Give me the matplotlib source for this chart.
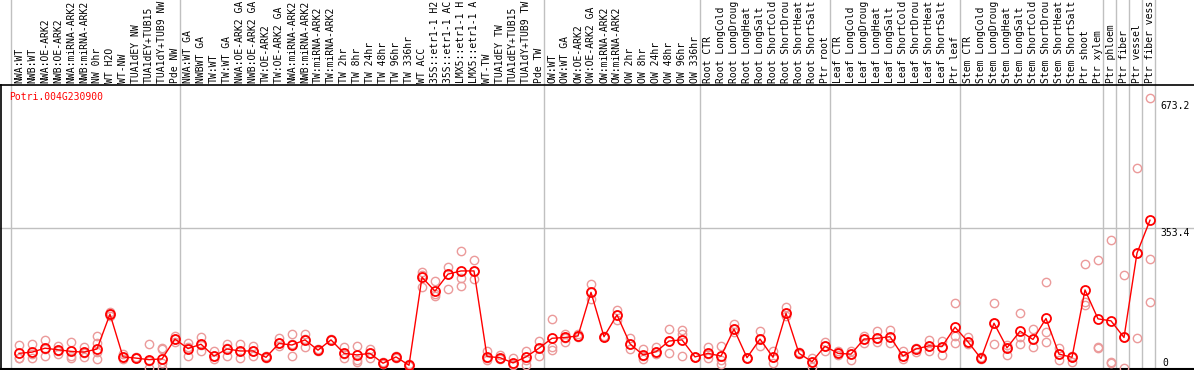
import numpy as np
import matplotlib
matplotlib.use("Agg")
import matplotlib.pyplot as plt

# gene shown in the panel
gene = "Potri.004G230900"

# sample names, one column each
samples = [
    "NWA:WT", "NWB:WT", "NWA:OE-ARK2", "NWB:OE-ARK2", "NWA:miRNA-ARK2",
    "NWB:miRNA-ARK2", "NW 0hr", "WT H2O", "WT-NW", "TUA1dEY NW",
    "TUA1dEY+TUB15", "TUA1dY+TUB9 NW", "Pde NW",
    "NWA:WT GA", "NWBWT GA", "TW:WT", "TW:WT GA", "NWA:OE-ARK2 GA",
    "NWB:OE-ARK2 GA", "TW:OE-ARK2", "TW:OE-ARK2 GA", "NWA:miRNA-ARK2",
    "NWB:miRNA-ARK2", "TW:miRNA-ARK2", "TW:miRNA-ARK2", "TW 2hr", "TW 8hr",
    "TW 24hr", "TW 48hr", "TW 96hr", "TW 336hr", "WT ACC", "35S::etr1-1 H2",
    "35S::etr1-1 AC", "LMX5::etr1-1 H", "LMX5::etr1-1 A", "WT-TW",
    "TUA1dEY TW", "TUA1dEY+TUB15", "TUA1dY+TUB9 TW", "Pde TW",
    "OW:WT", "OW:WT GA", "OW:OE-ARK2", "OW:OE-ARK2 GA", "OW:miRNA-ARK2",
    "OW:miRNA-ARK2", "OW 2hr", "OW 8hr", "OW 24hr", "OW 48hr", "OW 96hr",
    "OW 336hr",
    "Root CTR", "Root LongCold", "Root LongDroug", "Root LongHeat",
    "Root LongSalt", "Root ShortCold", "Root ShortDrou", "Root ShortHeat",
    "Root ShortSalt", "Ptr root",
    "Leaf CTR", "Leaf LongCold", "Leaf LongDroug", "Leaf LongHeat",
    "Leaf LongSalt", "Leaf ShortCold", "Leaf ShortDrou", "Leaf ShortHeat",
    "Leaf ShortSalt", "Ptr leaf",
    "Stem CTR", "Stem LongCold", "Stem LongDroug", "Stem LongHeat",
    "Stem LongSalt", "Stem ShortCold", "Stem ShortDrou", "Stem ShortHeat",
    "Stem ShortSalt", "Ptr shoot", "Ptr xylem", "Ptr phloem", "Ptr fiber",
    "Ptr vessel", "Ptr fiber vess",
]

# mean expression per sample
means = [
    37, 40, 50, 46, 42, 40, 48, 136, 28, 25, 21, 23, 73,
    49, 60, 30, 48, 43, 43, 27, 62, 58, 71, 45, 71, 37, 33, 37, 12, 28, 7,
    229, 194, 237, 245, 245, 29, 26, 13, 28, 50,
    75, 77, 81, 191, 79, 134, 61, 33, 41, 68, 71, 28,
    37, 30, 98, 26, 73, 27, 138, 37, 16, 55,
    37, 35, 73, 75, 79, 30, 48, 56, 54, 103,
    66, 24, 113, 51, 93, 72, 125, 35, 27, 197, 124, 119, 77, 290, 373,
]

# single replicates per sample
reps = [
    [58, 26, 24], [60, 26, 36], [71, 31, 48], [56, 35, 44], [66, 30, 26],
    [54, 27, 38], [81, 62, 22, 40], [141, 131, 136], [35, 22, 28],
    [25, 24, 27], [61, 1, 18], [50, 47, 13, 1], [81, 66, 73],
    [62, 30, 52], [77, 44, 58], [43, 22, 30], [60, 31, 50], [61, 24, 42],
    [55, 30, 44], [27, 24, 30], [75, 62, 55], [85, 30, 60], [85, 52, 74],
    [47, 45, 43], [71, 70, 72], [52, 26, 35], [55, 20, 16], [47, 24, 38],
    [14, 10, 12], [28, 30, 26], [7, 5, 9], [243, 205, 235], [220, 182, 188],
    [256, 199, 237], [295, 228, 207], [273, 224, 245], [44, 20, 24],
    [32, 26, 22], [26, 8, 10], [44, 8, 20], [68, 31, 50],
    [124, 54, 46], [85, 65, 75], [87, 79, 81], [212, 173, 191],
    [79, 78, 80], [146, 121, 134], [75, 48, 61], [47, 22, 30],
    [54, 36, 41], [98, 37, 68], [97, 85, 31], [28, 28, 28],
    [52, 24, 35], [55, 19, 11], [111, 90, 98], [26, 26, 26], [94, 55, 73],
    [44, 13, 27], [153, 131, 138], [37, 40, 35], [26, 3, 16], [66, 42, 55],
    [44, 37, 33], [44, 20, 35], [81, 63, 73], [94, 66, 75], [96, 63, 79],
    [44, 22, 30], [50, 40, 48], [71, 42, 56], [69, 33, 54], [165, 81, 62],
    [79, 66, 60], [24, 27, 22], [163, 60, 113], [57, 33, 51], [138, 79, 60],
    [98, 54, 72], [216, 90, 65], [50, 20, 35], [27, 16, 30],
    [262, 167, 159], [272, 54, 50], [322, 16, 12], [235, 0, 77],
    [504, 75, 290], [681, 274, 166],
]

# group borders (index of first sample after a border)
borders = [0, 13, 41, 53, 63, 73, 84, 85, 86, 87, 88]

# right hand scale labels
scale_vals = [673.2, 353.4, 0]

W, H = 1194, 370
STEP = 13.0          # px per sample
X0 = 19.0            # px of first sample
UNIT = 2.524         # value per px
BASE = 368.0         # px of value 0


def ypx(p):
    # pixel row (from top) -> data value
    return (BASE - p) * UNIT


def xpx(p):
    return (p - X0) / STEP


fig = plt.figure(figsize=(W / 100, H / 100), dpi=100)
ax = fig.add_axes([0, 0, 1, 1])
ax.set_xlim(xpx(0), xpx(W))
ax.set_ylim(ypx(H), ypx(0))
ax.axis("off")

mono = "DejaVu Sans Mono"
fs = 7

# frame
ax.plot([xpx(0), xpx(W)], [ypx(85), ypx(85)], color="black", lw=1.2)
ax.plot([xpx(0), xpx(W)], [ypx(369), ypx(369)], color="black", lw=1.5)
ax.plot([xpx(1), xpx(1)], [ypx(85), ypx(370)], color="black", lw=1.2)

for b in borders:
    ax.axvline(b - 0.6, color="#c0c0c0", lw=1.0, zorder=1)
ax.axhline(scale_vals[1], color="#c0c0c0", lw=1.0, zorder=1)

x = np.arange(len(samples))
for i, r in enumerate(reps):
    ax.plot([i] * len(r), r, "o", ms=6, mfc="none", mec="#eb9a9a",
            mew=1.0, zorder=2)

ax.plot(x, means, "-", color="red", lw=1.0, zorder=3)
ax.plot(x, means, "o", ms=6.5, mfc="none", mec="red", mew=1.3, zorder=4)

for i, s in enumerate(samples):
    ax.text(i, ypx(83), s, rotation=90, ha="center", va="bottom",
            fontsize=fs, family=mono)

ax.text(xpx(9), ypx(97), gene, color="red", ha="left", va="center",
        fontsize=fs, family=mono)

xr = xpx(1160)
ax.text(xr, scale_vals[0], "673.2", ha="left", va="top", fontsize=fs, family=mono)
ax.text(xr, scale_vals[1], "353.4", ha="left", va="top", fontsize=fs, family=mono)
ax.text(xpx(1162), scale_vals[2], "0", ha="left", va="bottom", fontsize=fs,
        family=mono)

fig.savefig("out.png", dpi=100)
